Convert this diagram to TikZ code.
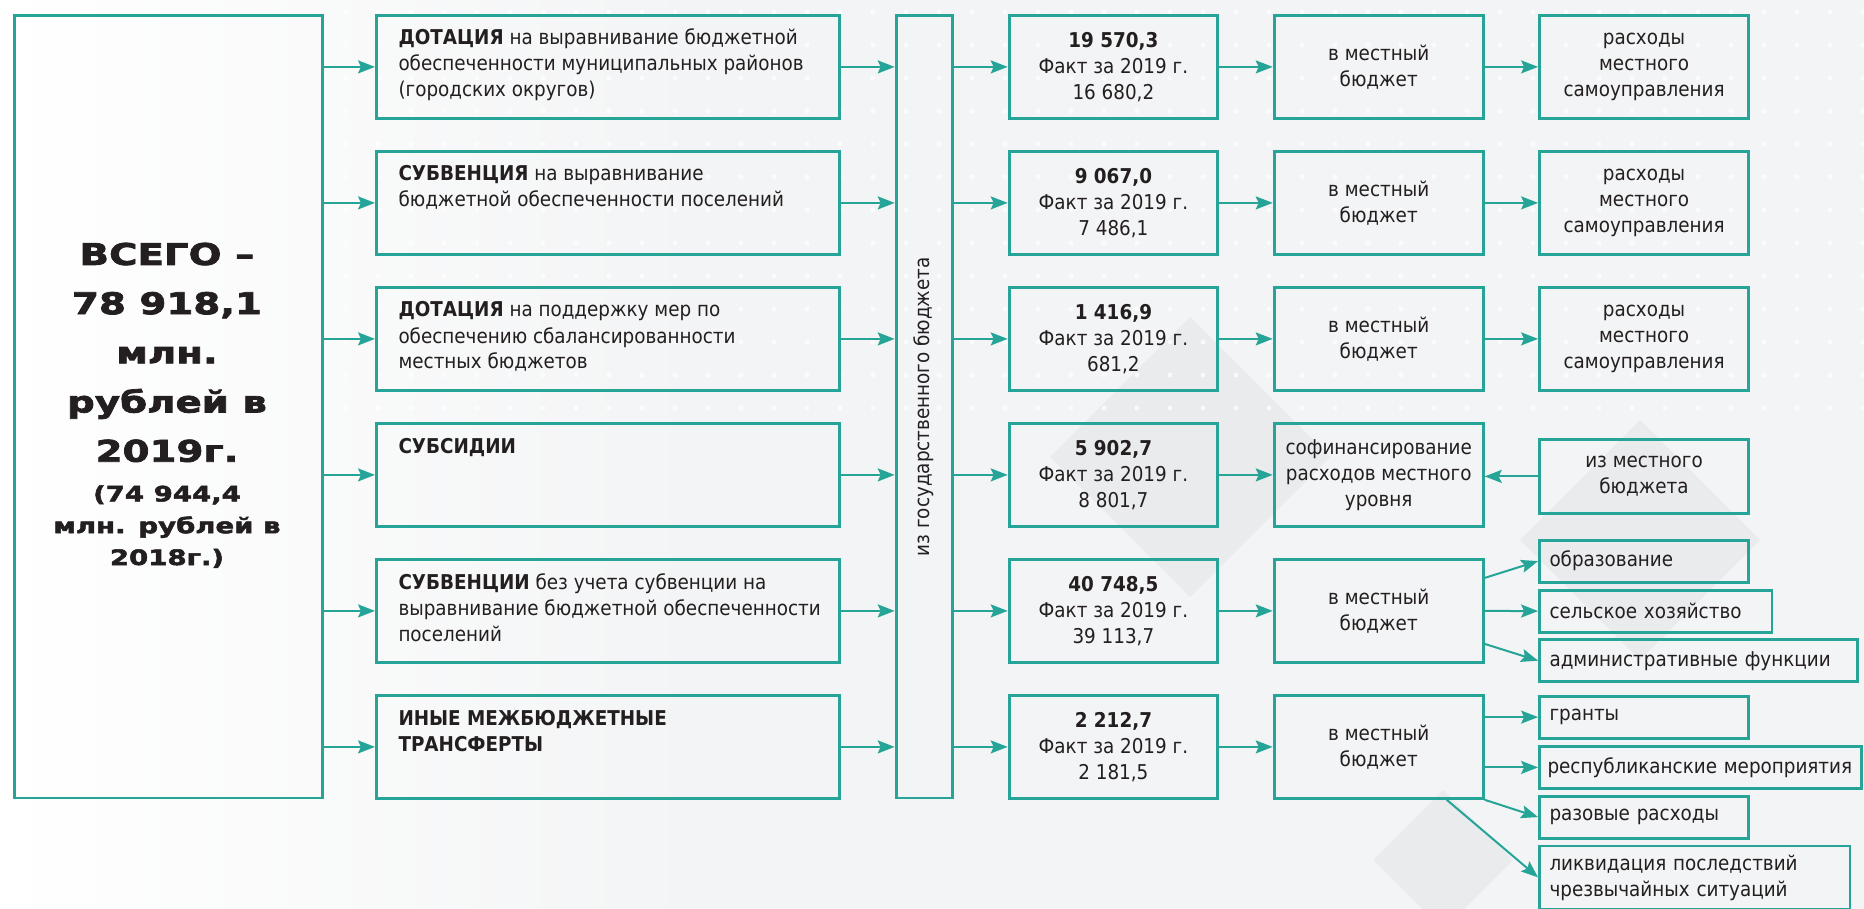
\documentclass[tikz,border=0pt]{standalone}
\usepackage{fontspec}
\setmainfont{DejaVu Sans Condensed}
\newfontfamily\heavyfont[FakeStretch=1.3, BoldFeatures={FakeBold=2.5}]{DejaVu Sans}
\usetikzlibrary{arrows.meta,calc}

\definecolor{tealline}{RGB}{38,164,152}
\definecolor{ink}{RGB}{35,31,32}
\definecolor{bgcol}{RGB}{243,244,245}
\definecolor{bgdark}{RGB}{234,235,237}

\tikzset{
  every picture/.style={line width=1pt},
  box/.style={draw=tealline, line width=1.4pt, inner sep=0pt, anchor=north west, align=center, text=ink},
  itembox/.style={draw=tealline, line width=1.4pt, inner xsep=5pt, inner ysep=0pt, anchor=north west, align=left, text=ink, minimum height=21pt},
  lefttext/.style={align=left, inner sep=0pt, anchor=base west, text=ink},
  bigtext/.style={align=center, inner sep=0pt, anchor=base, text=ink, font=\heavyfont\bfseries\fontsize{14.9}{24.6}\selectfont},
  smalltext/.style={align=center, inner sep=0pt, anchor=base, text=ink, font=\heavyfont\bfseries\fontsize{10.6}{15.9}\selectfont},
  flow/.style={draw=tealline, line width=1pt, -{Stealth[length=8.5pt,width=6.5pt,inset=1.5pt]}},
}

\begin{document}
\begin{tikzpicture}[x=0.5pt,y=0.5pt,yscale=-1,font=\fontsize{10.2}{13}\selectfont]
	\useasboundingbox (0,0) rectangle (1864,909);

	%Background
	\fill[bgcol] (0,0) rectangle (1864,909);
	\shade[left color=white, right color=bgcol] (0,0) rectangle (700,909);
	\fill[bgdark] (1190,317) -- (1330,457) -- (1190,597) -- (1050,457) -- cycle;
	\fill[bgdark] (1443,790) -- (1513,860) -- (1443,930) -- (1373,860) -- cycle;
	\fill[bgdark] (1640,420) -- (1760,540) -- (1640,660) -- (1520,540) -- cycle;
	\foreach \x in {345,378,...,1864}
		\foreach \y in {12,45,...,430}
			\fill[white, opacity=0.7] (\x,\y) circle (2.5);

	%Total
	\node[box, minimum width=153.7pt, minimum height=391.3pt] (total) at (13.3,14) {};
	\node[bigtext] (totalt) at (167,461.7) {ВСЕГО –\\78 918,1\\млн.\\рублей в\\2019г.};
	\node[smalltext] (totals) at (167,565) {(74 944,4\\млн. рублей в\\2018г.)};

	%Transfers
	\node[box, minimum width=231.5pt, minimum height=51.5pt] (tr1) at (375,14) {};
	\node[box, minimum width=231.5pt, minimum height=51.5pt] (tr2) at (375,150) {};
	\node[box, minimum width=231.5pt, minimum height=51.5pt] (tr3) at (375,286) {};
	\node[box, minimum width=231.5pt, minimum height=51.5pt] (tr4) at (375,422) {};
	\node[box, minimum width=231.5pt, minimum height=51.5pt] (tr5) at (375,558) {};
	\node[box, minimum width=231.5pt, minimum height=51.5pt] (tr6) at (375,694) {};
	\node[lefttext] (tr1t) at (397.5,97) {\textbf{ДОТАЦИЯ} на выравнивание бюджетной\\обеспеченности муниципальных районов\\(городских округов)};
	\node[lefttext] (tr2t) at (397.5,207) {\textbf{СУБВЕНЦИЯ} на выравнивание\\бюджетной обеспеченности поселений};
	\node[lefttext] (tr3t) at (397.5,369) {\textbf{ДОТАЦИЯ} на поддержку мер по\\обеспечению сбалансированности\\местных бюджетов};
	\node[lefttext] (tr4t) at (397.5,453) {\textbf{СУБСИДИИ}};
	\node[lefttext] (tr5t) at (397.5,641) {\textbf{СУБВЕНЦИИ} без учета субвенции на\\выравнивание бюджетной обеспеченности\\поселений};
	\node[lefttext] (tr6t) at (397.5,751) {\textbf{ИНЫЕ МЕЖБЮДЖЕТНЫЕ}\\\textbf{ТРАНСФЕРТЫ}};

	%State budget
	\node[box, minimum width=28pt, minimum height=391.3pt] (gov) at (894.7,14) {};
	\node[rotate=90, text=ink] (govt) at (gov.center) {из государственного бюджета};

	%Sums
	\node[box, minimum width=104.3pt, minimum height=51.5pt] (sum1) at (1007.7,14) {\textbf{19 570,3}\\Факт за 2019 г.\\16 680,2};
	\node[box, minimum width=104.3pt, minimum height=51.5pt] (sum2) at (1007.7,150) {\textbf{9 067,0}\\Факт за 2019 г.\\7 486,1};
	\node[box, minimum width=104.3pt, minimum height=51.5pt] (sum3) at (1007.7,286) {\textbf{1 416,9}\\Факт за 2019 г.\\681,2};
	\node[box, minimum width=104.3pt, minimum height=51.5pt] (sum4) at (1007.7,422) {\textbf{5 902,7}\\Факт за 2019 г.\\8 801,7};
	\node[box, minimum width=104.3pt, minimum height=51.5pt] (sum5) at (1007.7,558) {\textbf{40 748,5}\\Факт за 2019 г.\\39 113,7};
	\node[box, minimum width=104.3pt, minimum height=51.5pt] (sum6) at (1007.7,694) {\textbf{2 212,7}\\Факт за 2019 г.\\2 181,5};

	%Local budget
	\node[box, minimum width=104.6pt, minimum height=51.5pt] (loc1) at (1272.7,14) {в местный\\бюджет};
	\node[box, minimum width=104.6pt, minimum height=51.5pt] (loc2) at (1272.7,150) {в местный\\бюджет};
	\node[box, minimum width=104.6pt, minimum height=51.5pt] (loc3) at (1272.7,286) {в местный\\бюджет};
	\node[box, minimum width=104.6pt, minimum height=51.5pt] (loc4) at (1272.7,422) {софинансирование\\расходов местного\\уровня};
	\node[box, minimum width=104.6pt, minimum height=51.5pt] (loc5) at (1272.7,558) {в местный\\бюджет};
	\node[box, minimum width=104.6pt, minimum height=51.5pt] (loc6) at (1272.7,694) {в местный\\бюджет};

	%Expenses
	\node[box, minimum width=104.6pt, minimum height=51.5pt] (exp1) at (1538.1,14) {расходы\\местного\\самоуправления};
	\node[box, minimum width=104.6pt, minimum height=51.5pt] (exp2) at (1538.1,150) {расходы\\местного\\самоуправления};
	\node[box, minimum width=104.6pt, minimum height=51.5pt] (exp3) at (1538.1,286) {расходы\\местного\\самоуправления};
	\node[box, minimum width=104.2pt, minimum height=36.7pt] (own) at (1538.4,438.3) {из местного\\бюджета};

	%Items
	\node[itembox, text width=94.6pt] (edu) at (1538.1,538.7) {образование};
	\node[itembox, text width=106.2pt] (agri) at (1538.1,588.7) {сельское хозяйство};
	\node[itembox, text width=149.1pt] (admin) at (1538.1,638.3) {административные функции};
	\node[itembox, text width=94.6pt] (grants) at (1538.1,694.7) {гранты};
	\node[itembox, inner xsep=4pt, text width=153pt] (events) at (1538.1,745) {\mbox{республиканские мероприятия}};
	\node[itembox, text width=94.6pt] (once) at (1538.1,794.7) {разовые расходы};
	\node[itembox, text width=145.2pt, minimum height=31.5pt] (emerg) at (1538.1,844.5) {ликвидация последствий\\чрезвычайных ситуаций};

	%Arrows
	\foreach \i in {1,...,6} {
		\draw[flow] (total.east |- tr\i.west) -- (tr\i.west);
		\draw[flow] (tr\i.east) -- (gov.west |- tr\i.east);
		\draw[flow] (gov.east |- sum\i.west) -- (sum\i.west);
		\draw[flow] (sum\i.east) -- (loc\i.west);
	}
	\foreach \i in {1,2,3}
		\draw[flow] (loc\i.east) -- (exp\i.west);
	\draw[flow] (own.west) -- (own.west -| loc4.east);
	\draw[flow] ($(loc5.east)+(0,-33)$) -- (edu.west);
	\draw[flow] (loc5.east) -- (agri.west);
	\draw[flow] ($(loc5.east)+(0,33)$) -- (admin.west);
	\draw[flow] (loc6.east |- grants.west) -- (grants.west);
	\draw[flow] (loc6.east |- events.west) -- (events.west);
	\draw[flow] (loc6.south east) -- (once.west);
	\draw[flow] ($(loc6.south)+(68,0)$) -- (emerg.west);

\end{tikzpicture}
\end{document}
